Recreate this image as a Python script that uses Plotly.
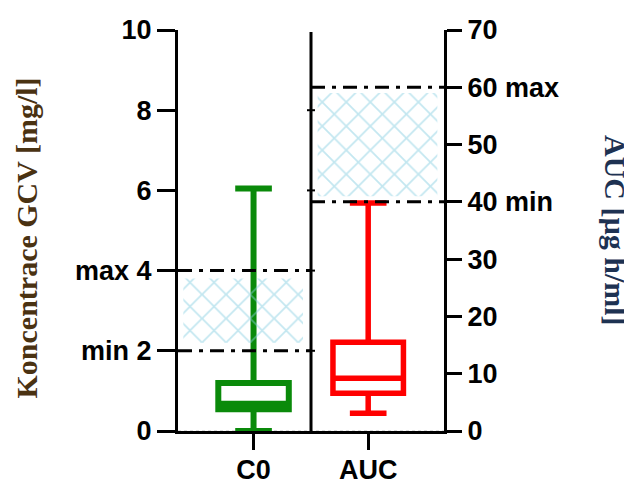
import plotly.graph_objects as go

# ---- data ----
categories = ["C0", "AUC"]
c0_stats = dict(lowerfence=0.0, q1=0.54, median=0.68, q3=1.2, upperfence=6.05)
auc_stats = dict(lowerfence=3.1, q1=6.6, median=9.2, q3=15.5, upperfence=39.8)
c0_target = [2, 4]        # min, max (mg/l)
auc_target = [40, 60]     # min, max (ug h/ml)
left_ticks = [0, 2, 4, 6, 8, 10]
left_ticktext = ["0", "min 2", "max 4", "6", "8", "10"]
right_ticks = [0, 10, 20, 30, 40, 50, 60, 70]
right_ticktext = ["0", "10", "20", "30", "40 min", "50", "60 max", "70"]

# layout positions (x in [0,2]: left panel 0..1, right panel 1..2)
cat_pos = [0.568, 1.43]

FONT = "Liberation Sans, Arial, sans-serif"
DASHDOT = "14px,7px,4px,7px"
fig = go.Figure()

# hatched target regions
hatch = dict(shape="x", fgcolor="#88cfe2", bgcolor="rgba(0,0,0,0)", size=17, solidity=0.2)
lo, hi = c0_target
pad = 0.1 * (hi - lo)
fig.add_trace(go.Scatter(x=[0.04, 0.94, 0.94, 0.04, 0.04],
                         y=[lo + pad, lo + pad, hi - pad, hi - pad, lo + pad],
                         fill="toself", fillpattern=hatch, mode="none",
                         fillcolor="rgba(0,0,0,0)", showlegend=False, hoverinfo="skip",
                         yaxis="y"))
lo, hi = auc_target
pad = 0.05 * (hi - lo)
fig.add_trace(go.Scatter(x=[1.05, 1.95, 1.95, 1.05, 1.05],
                         y=[lo + pad, lo + pad, hi - pad, hi - pad, lo + pad],
                         fill="toself", fillpattern=hatch, mode="none",
                         fillcolor="rgba(0,0,0,0)", showlegend=False, hoverinfo="skip",
                         yaxis="y2"))

# dash-dot target lines
for v in c0_target:
    fig.add_trace(go.Scatter(x=[0, 1], y=[v, v], mode="lines",
                             line=dict(color="black", width=3, dash=DASHDOT),
                             showlegend=False, hoverinfo="skip", yaxis="y"))
for v in auc_target:
    fig.add_trace(go.Scatter(x=[1, 2], y=[v, v], mode="lines",
                             line=dict(color="black", width=3, dash=DASHDOT),
                             showlegend=False, hoverinfo="skip", yaxis="y2"))

# boxes
fig.add_trace(go.Box(x=[cat_pos[0]], q1=[c0_stats["q1"]], median=[c0_stats["median"]],
                     q3=[c0_stats["q3"]], lowerfence=[c0_stats["lowerfence"]],
                     upperfence=[c0_stats["upperfence"]], width=0.53, whiskerwidth=0.52,
                     line=dict(color="#0a8a0a", width=6), fillcolor="white",
                     showlegend=False, yaxis="y", name=categories[0]))
fig.add_trace(go.Box(x=[cat_pos[1]], q1=[auc_stats["q1"]], median=[auc_stats["median"]],
                     q3=[auc_stats["q3"]], lowerfence=[auc_stats["lowerfence"]],
                     upperfence=[auc_stats["upperfence"]], width=0.53, whiskerwidth=0.52,
                     line=dict(color="#ff0000", width=5.5), fillcolor="rgba(255,255,255,0)",
                     showlegend=False, yaxis="y2", name=categories[1]))

# divider line
shapes = [dict(type="line", xref="x", yref="y", x0=1, x1=1, y0=0, y1=9.95,
               line=dict(color="black", width=3), layer="above")]
# small ticks on divider
for t in left_ticks[1:-1]:
    shapes.append(dict(type="line", xref="x", yref="y", xsizemode="pixel", xanchor=1,
                       x0=-4, x1=4, y0=t, y1=t, line=dict(color="black", width=2)))
# faint dotted baseline
shapes.append(dict(type="line", xref="x", yref="y", x0=0, x1=2, y0=0, y1=0,
                   line=dict(color="#bbbbbb", width=1, dash="dot"), layer="below"))

tickfont = dict(family=FONT, size=27, color="black", weight="bold")
# page has an 8px body margin: figure is 8px smaller, margins shifted accordingly
fig.update_layout(
    width=624, height=471,
    margin=dict(l=170, r=188, t=22, b=48),
    paper_bgcolor="white", plot_bgcolor="white",
    shapes=shapes,
    xaxis=dict(range=[0, 2], tickvals=cat_pos, ticktext=categories,
               showline=True, linecolor="black", linewidth=3,
               ticks="outside", ticklen=16, tickwidth=3, tickcolor="black",
               showgrid=False, zeroline=False, tickfont=tickfont,
               ticklabelstandoff=-3,
               layer="below traces", automargin=False),
    yaxis=dict(range=[0, 10], tickvals=left_ticks, ticktext=left_ticktext,
               showline=True, linecolor="black", linewidth=3,
               ticks="outside", ticklen=18, tickwidth=3, tickcolor="black",
               showgrid=False, zeroline=False, tickfont=tickfont, automargin=False),
    yaxis2=dict(range=[0, 70], tickvals=right_ticks, ticktext=right_ticktext,
                overlaying="y", side="right", anchor="x",
                showline=True, linecolor="black", linewidth=3,
                ticks="outside", ticklen=15, tickwidth=3, tickcolor="black",
                showgrid=False, zeroline=False, tickfont=tickfont, automargin=False),
    annotations=[
        dict(text="Koncentrace GCV [mg/l]", xref="paper", yref="paper",
             x=-0.57, y=0.481, xanchor="center", yanchor="middle",
             textangle=-90, showarrow=False,
             font=dict(family="Liberation Serif, Times New Roman, serif", size=30,
                       color="#4a3212", weight="bold")),
        dict(text="AUC [µg h/ml]", xref="paper", yref="paper",
             x=1.647, y=0.501, xanchor="center", yanchor="middle",
             textangle=90, showarrow=False,
             font=dict(family="Liberation Serif, Times New Roman, serif", size=30,
                       color="#1e3252", weight="bold")),
    ],
)

fig.write_html("out.html")
